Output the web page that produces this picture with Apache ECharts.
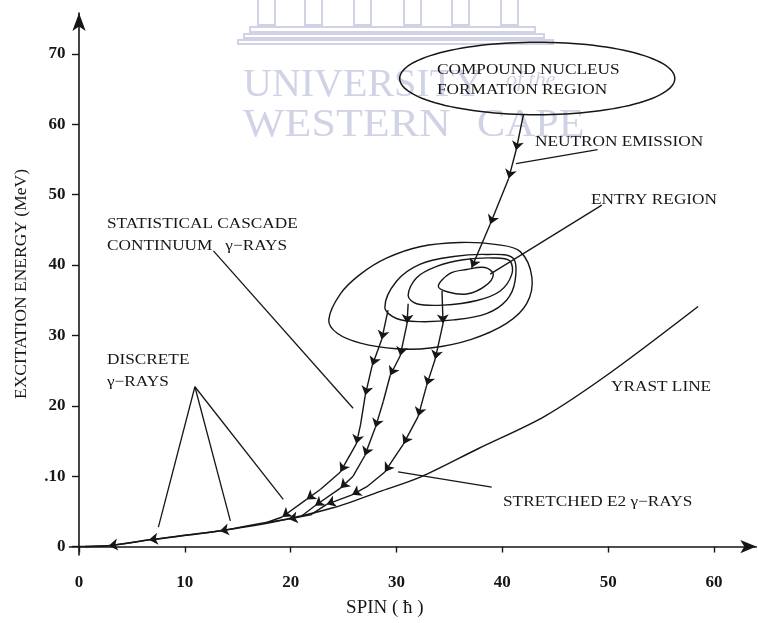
<!DOCTYPE html>
<html>
<head>
<meta charset="utf-8">
<script src="https://cdn.jsdelivr.net/npm/echarts@6/dist/echarts.min.js"></script>
<style>
  html, body { margin: 0; padding: 0; background: #fff; }
  #chart { width: 758px; height: 623px; }
</style>
</head>
<body>
<div id="chart"></div>
<script>
// ---- axis ticks ----
const spinTicks = [0, 10, 20, 30, 40, 50, 60];
const energyTicks = [0, 10, 20, 30, 40, 50, 60, 70];
const energyTickLabels = ['0', '.10', '20', '30', '40', '50', '60', '70'];

// ---- yrast line (spin, excitation energy in MeV) ----
const yrastLine = [
  [0, 0], [3, 0.15], [6.7, 0.95], [12.7, 2.1], [18.7, 3.6], [24, 5.5],
  [28.4, 7.8], [32.3, 9.9], [37.7, 13.9], [44, 18.5], [50.3, 24.8], [58.5, 34.1]
];

// ---- compound nucleus formation region: centre and half-widths ----
const compoundNucleus = [[43.3, 66.5, 13.0, 5.15]];

// ---- entry region contours (outer to inner) ----
const entryContours = [
  [[23.6, 32.2], [24.7, 35.9], [26.6, 38.7], [29.1, 41.0], [32.2, 42.6], [36.0, 43.2],
   [39.5, 42.9], [41.7, 41.9], [42.8, 38.2], [42.3, 34.5], [40.4, 31.7], [37.0, 29.4],
   [33.2, 28.2], [30.0, 28.1], [26.6, 28.9], [24.4, 30.3]],
  [[28.9, 34.0], [30.0, 37.7], [32.2, 40.1], [35.4, 41.2], [38.5, 41.5], [41.0, 41.0],
   [41.2, 37.7], [40.4, 35.0], [38.5, 33.1], [35.4, 32.2], [32.2, 31.95], [30.0, 32.4]],
  [[31.1, 35.65], [31.9, 38.2], [33.8, 39.8], [36.3, 40.75], [39.15, 41.0], [40.7, 40.6],
   [40.9, 38.7], [39.8, 36.3], [37.6, 34.95], [34.4, 34.3], [31.9, 34.5]],
  [[33.95, 37.0], [35.06, 38.8], [36.63, 39.36], [38.36, 39.64], [39.15, 38.66],
   [38.36, 37.0], [36.63, 35.88], [34.87, 36.16]]
];

// ---- decay paths; each has the indices of its points that carry an arrowhead ----
const neutronPath = [[42.0, 61.4], [41.3, 56.3], [40.6, 52.3], [38.85, 45.8], [37.1, 39.6]];
const neutronArrows = [1, 2, 3, 4];

const cascadeA = [[29.2, 33.6], [28.6, 29.4], [27.7, 25.7], [27.05, 21.5], [26.6, 17.3],
  [26.2, 14.6], [24.7, 10.6], [22.8, 8.1], [21.5, 6.7], [19.2, 4.2], [17.8, 3.45]];
const cascadeAArrows = [1, 2, 3, 5, 6, 8, 9];

const cascadeB = [[31.1, 34.5], [31.0, 31.7], [30.35, 27.1], [29.4, 24.3], [28.75, 20.6],
  [28.0, 16.9], [27.0, 12.9], [25.9, 10.0], [24.7, 8.3], [22.3, 5.8], [21.0, 4.3]];
const cascadeBArrows = [1, 2, 3, 5, 6, 8, 9];

const cascadeC = [[34.3, 36.3], [34.4, 31.7], [33.65, 26.6], [32.85, 22.9], [32.05, 18.5],
  [30.65, 14.55], [28.9, 10.6], [27.2, 8.5], [25.8, 7.35], [23.4, 6.0], [22.0, 4.6]];
const cascadeCArrows = [1, 2, 3, 4, 5, 6, 8, 9];

const discretePath = [[22.0, 4.55], [19.8, 3.9], [17.8, 3.45], [15.6, 2.85], [13.3, 2.2],
  [10.0, 1.6], [6.6, 0.95], [4.7, 0.5], [2.8, 0.13], [0.6, 0.0]];
const discreteArrows = [1, 4, 6, 8];

// ---- label leader lines ----
const leaderLines = [
  [[49.0, 56.4], [41.3, 54.4]],    // neutron emission
  [[49.4, 48.5], [38.85, 38.7]],   // entry region
  [[12.7, 42.0], [25.9, 19.65]],   // statistical cascade
  [[10.95, 22.7], [7.5, 2.75]],    // discrete gamma rays
  [[10.95, 22.7], [14.3, 3.65]],
  [[10.95, 22.7], [19.3, 6.7]],
  [[39.0, 8.45], [30.15, 10.6]]    // stretched E2
];

const INK = '#161616';
const SERIF = '"Liberation Serif", "Times New Roman", serif';
const MARK = '#d0d3e5';

// split a path into straight two-point pieces, with or without an arrowhead at the end
function pieces(paths) {
  const arrowed = [], plain = [];
  paths.forEach(([pts, arrows]) => {
    for (let i = 0; i + 1 < pts.length; i++) {
      const seg = { coords: [pts[i], pts[i + 1]] };
      (arrows.indexOf(i + 1) >= 0 ? arrowed : plain).push(seg);
    }
  });
  return { arrowed, plain };
}
const decay = pieces([
  [neutronPath, neutronArrows],
  [cascadeA, cascadeAArrows],
  [cascadeB, cascadeBArrows],
  [cascadeC, cascadeCArrows],
  [discretePath, discreteArrows]
]);

const chart = echarts.init(document.getElementById('chart'), null, { renderer: 'canvas' });

function label(text, x, y) {
  return {
    type: 'text', x: x, y: y, scaleX: 1.15, z: 20,
    style: { text: text, font: '15px ' + SERIF, fill: INK, textVerticalAlign: 'middle', verticalAlign: 'middle' }
  };
}
function mark(text, x, y, size, sx, italic) {
  return {
    type: 'text', x: x, y: y, scaleX: sx, z: 0, silent: true,
    style: { text: text, font: (italic ? 'italic ' : '') + size + 'px ' + SERIF, fill: MARK,
             textVerticalAlign: 'middle', verticalAlign: 'middle' }
  };
}
const pillarX = [258, 305, 354, 404, 452, 501];
const emblem = pillarX.map(px => ({
  type: 'rect', z: 0, silent: true,
  shape: { x: px, y: -2, width: 17, height: 27 },
  style: { fill: 'none', stroke: MARK, lineWidth: 2 }
})).concat([
  { type: 'rect', z: 0, silent: true, shape: { x: 250, y: 27, width: 285, height: 5 }, style: { fill: 'none', stroke: MARK, lineWidth: 2 } },
  { type: 'rect', z: 0, silent: true, shape: { x: 244, y: 34, width: 300, height: 4 }, style: { fill: 'none', stroke: MARK, lineWidth: 2 } },
  { type: 'rect', z: 0, silent: true, shape: { x: 238, y: 40, width: 315, height: 4 }, style: { fill: 'none', stroke: MARK, lineWidth: 2 } }
]);

const option = {
  animation: false,
  backgroundColor: '#ffffff',
  grid: { left: 69.5, right: 1.7, top: 13, bottom: 56.4, containLabel: false },
  xAxis: {
    type: 'value', min: -0.9, max: 64,
    axisLine: { onZero: true, symbol: ['none', 'arrow'], symbolSize: [10, 16], lineStyle: { color: INK, width: 1.6 } },
    axisTick: { show: true, customValues: spinTicks, length: 6, lineStyle: { color: INK, width: 1.4 } },
    axisLabel: { customValues: spinTicks, margin: 19, color: INK, fontFamily: SERIF, fontSize: 17, fontWeight: 'bold' },
    splitLine: { show: false },
    name: 'SPIN ( ħ )', nameLocation: 'middle', nameGap: 44,
    nameTextStyle: { color: INK, fontFamily: SERIF, fontSize: 19, padding: [0, 56, 0, 0] }
  },
  yAxis: {
    type: 'value', min: -1.2, max: 75.8,
    axisLine: { onZero: true, symbol: ['none', 'arrow'], symbolSize: [10, 18], lineStyle: { color: INK, width: 1.6 } },
    axisTick: { show: true, customValues: energyTicks, length: 7, lineStyle: { color: INK, width: 1.4 } },
    axisLabel: {
      customValues: energyTicks, margin: 4, color: INK, fontFamily: SERIF, fontSize: 17, fontWeight: 'bold',
      padding: [0, 0, 6, 0],
      formatter: v => energyTickLabels[energyTicks.indexOf(v)]
    },
    splitLine: { show: false },
    name: 'EXCITATION ENERGY (MeV)', nameLocation: 'middle', nameGap: 39, nameRotate: 90,
    nameTextStyle: { color: INK, fontFamily: SERIF, fontSize: 17.5 }
  },
  graphic: emblem.concat([
    mark('UNIVERSITY', 243, 85, 40, 1.0, false),
    mark('of the', 506, 80, 22, 1.0, true),
    mark('WESTERN', 243, 125, 40, 1.1, false),
    mark('CAPE', 477, 125, 40, 1.05, false),
    label('COMPOUND NUCLEUS', 437, 70),
    label('FORMATION REGION', 437, 90),
    label('NEUTRON EMISSION', 535, 142),
    label('ENTRY REGION', 591, 200),
    label('STATISTICAL CASCADE', 107, 224),
    label('CONTINUUM   γ−RAYS', 107, 246),
    label('DISCRETE', 107, 360),
    label('γ−RAYS', 107, 382),
    label('YRAST LINE', 611, 387),
    label('STRETCHED E2 γ−RAYS', 503, 502)
  ]),
  series: [
    {
      name: 'Yrast line', type: 'line', data: yrastLine, smooth: 0.3,
      showSymbol: false, z: 5,
      lineStyle: { color: INK, width: 1.5 }
    },
    {
      name: 'Compound nucleus', type: 'custom', data: compoundNucleus, z: 5,
      encode: { x: 0, y: 1 },
      renderItem: function (params, api) {
        const c = api.coord([api.value(0), api.value(1)]);
        const r = api.size([api.value(2), api.value(3)]);
        const pts = [];
        for (let k = 0; k < 120; k++) {
          const t = k / 120 * Math.PI * 2;
          pts.push([c[0] + r[0] * Math.cos(t), c[1] + r[1] * Math.sin(t)]);
        }
        return { type: 'polygon', shape: { points: pts }, style: { fill: 'none', stroke: INK, lineWidth: 1.5 } };
      }
    },
    {
      name: 'Entry region', type: 'custom', z: 5,
      data: entryContours.map((c, i) => [c[0][0], c[0][1], i]),
      encode: { x: 0, y: 1 },
      renderItem: function (params, api) {
        const pts = entryContours[api.value(2)].map(p => api.coord(p));
        return { type: 'polygon', shape: { points: pts, smooth: 0.35 }, style: { fill: 'none', stroke: INK, lineWidth: 1.4 } };
      }
    },
    {
      name: 'Decay steps', type: 'lines', coordinateSystem: 'cartesian2d', z: 6,
      data: decay.arrowed,
      symbol: ['none', 'arrow'], symbolSize: 9,
      lineStyle: { color: INK, width: 1.4, opacity: 1, curveness: 0 }
    },
    {
      name: 'Decay links', type: 'lines', coordinateSystem: 'cartesian2d', z: 6,
      data: decay.plain,
      symbol: 'none',
      lineStyle: { color: INK, width: 1.4, opacity: 1, curveness: 0 }
    },
    {
      name: 'Leaders', type: 'lines', coordinateSystem: 'cartesian2d', z: 4,
      data: leaderLines.map(c => ({ coords: c })),
      symbol: 'none',
      lineStyle: { color: INK, width: 1.3, opacity: 1, curveness: 0 }
    }
  ]
};
chart.setOption(option);
</script>
</body>
</html>
